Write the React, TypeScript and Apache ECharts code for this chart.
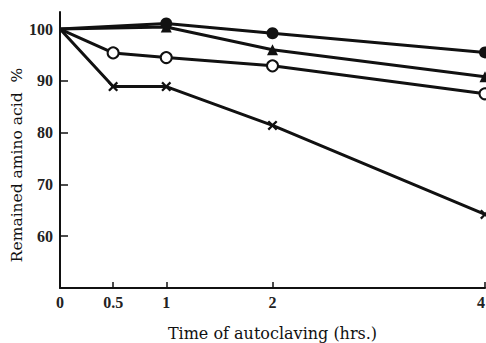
import React, { useEffect, useRef } from "react";
import * as echarts from "echarts";

const xTickValues = [0, 0.5, 1, 2, 4];
const yTickValues = [60, 70, 80, 90, 100];

const filledCircleX = [0, 1, 2, 4];
const filledCircleY = [100, 101.1, 99.2, 95.5];

const triangleX = [0, 1, 2, 4];
const triangleY = [100, 100.4, 96, 90.8];

const openCircleX = [0, 0.5, 1, 2, 4];
const openCircleY = [100, 95.4, 94.5, 92.9, 87.5];

const crossX = [0, 0.5, 1, 2, 4];
const crossY = [100, 88.9, 88.9, 81.4, 64.2];

const CROSS =
  "path://M0,1.6L1.6,0L5,3.4L8.4,0L10,1.6L6.6,5L10,8.4L8.4,10L5,6.6L1.6,10L0,8.4L3.4,5Z";

const FONT = "'Liberation Serif', 'DejaVu Serif', serif";
const WIDE_FONT = "'DejaVu Serif', 'Liberation Serif', serif";

function pts(xs: number[], ys: number[]) {
  return xs.map((x, i) =>
    x === 0 ? { value: [x, ys[i]], symbol: "none" } : { value: [x, ys[i]] }
  );
}

export default function App() {
  const ref = useRef<HTMLDivElement>(null);
  useEffect(() => {
    if (!ref.current) return;
    const chart = echarts.init(ref.current, undefined, { renderer: "svg" });
    const lineStyle = { color: "#111", width: 3 };
    chart.setOption({
      animation: false,
      backgroundColor: "#fff",
      grid: {
        left: 60,
        right: 1,
        top: 12,
        bottom: 55,
        containLabel: false,
        outerBoundsMode: "none",
      },
      xAxis: {
        type: "value",
        min: 0,
        max: 4,
        name: "Time of autoclaving (hrs.)",
        nameLocation: "middle",
        nameGap: 37,
        nameTextStyle: { fontFamily: WIDE_FONT, fontSize: 16, color: "#111" },
        axisLine: { show: true, lineStyle: { color: "#111", width: 2 } },
        axisTick: {
          show: true,
          inside: true,
          length: 6,
          customValues: [0.5, 1, 2, 4],
          lineStyle: { color: "#111", width: 1.5 },
        },
        axisLabel: {
          customValues: xTickValues,
          margin: 6,
          fontFamily: FONT,
          fontSize: 16,
          fontWeight: "bold",
          color: "#222",
          hideOverlap: false,
          alignMaxLabel: "right",
        },
        splitLine: { show: false },
      },
      yAxis: {
        type: "value",
        min: 50,
        max: 103.3,
        axisLine: { show: true, onZero: false, lineStyle: { color: "#111", width: 2 } },
        axisTick: {
          show: true,
          inside: true,
          length: 8,
          customValues: yTickValues,
          lineStyle: { color: "#111", width: 1.5 },
        },
        axisLabel: {
          customValues: yTickValues,
          margin: 7,
          fontFamily: FONT,
          fontSize: 16,
          fontWeight: "bold",
          color: "#222",
        },
        splitLine: { show: false },
      },
      graphic: [
        {
          type: "text",
          x: 17,
          y: 165,
          rotation: Math.PI / 2,
          style: {
            text: "Remained amino acid  %",
            fontFamily: WIDE_FONT,
            fontSize: 15.5,
            fill: "#111",
            textAlign: "center",
            textVerticalAlign: "middle",
          },
        },
      ],
      series: [
        {
          type: "line",
          data: pts(crossX, crossY),
          symbol: CROSS,
          symbolSize: 10,
          itemStyle: { color: "#111" },
          lineStyle,
          z: 2,
        },
        {
          type: "line",
          data: pts(openCircleX, openCircleY),
          symbol: "circle",
          symbolSize: 11,
          itemStyle: { color: "#fff", borderColor: "#111", borderWidth: 2 },
          lineStyle,
          z: 2,
        },
        {
          type: "line",
          data: pts(triangleX, triangleY),
          symbol: "triangle",
          symbolSize: 11,
          itemStyle: { color: "#111" },
          lineStyle,
          z: 3,
        },
        {
          type: "line",
          data: pts(filledCircleX, filledCircleY),
          symbol: "circle",
          symbolSize: 12,
          itemStyle: { color: "#111" },
          lineStyle,
          z: 4,
        },
      ],
    });
    return () => chart.dispose();
  }, []);
  return (
    <div
      ref={ref}
      style={{ position: "fixed", left: 0, top: 0, width: 486, height: 343 }}
    />
  );
}
